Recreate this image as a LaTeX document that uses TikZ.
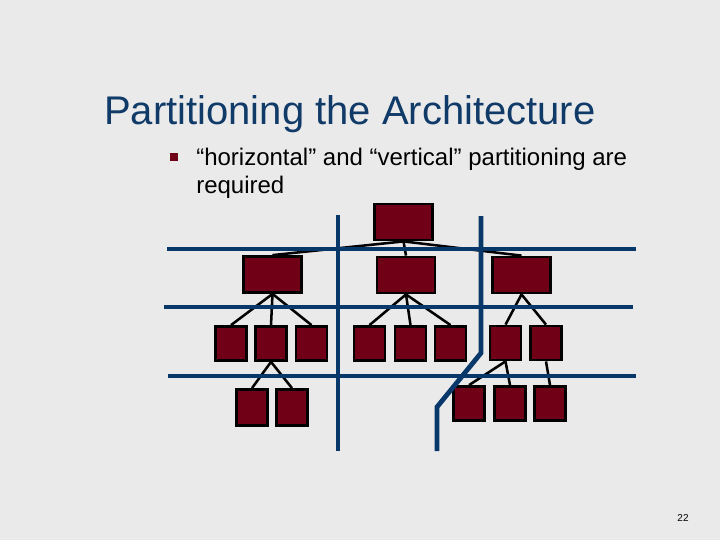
\documentclass[tikz,border=0pt]{standalone}
\usepackage{fontspec}
\setmainfont{Liberation Sans}
\definecolor{bgc}{RGB}{234,234,234}
\definecolor{navy}{RGB}{8,56,106}
\definecolor{titleblue}{RGB}{16,58,104}
\definecolor{maroon}{RGB}{112,0,22}
\begin{document}
\begin{tikzpicture}[x=0.75pt,y=-0.75pt,
  bigbox/.style={draw=black,line width=2.1pt,fill=maroon,inner sep=0pt,minimum width=43.5pt,minimum height=27pt},
  sqbox/.style={draw=black,line width=2.1pt,fill=maroon,inner sep=0pt,minimum width=23.25pt,minimum height=25.5pt},
  tallsq/.style={sqbox,minimum height=27pt},
  conn/.style={draw=black,line width=1.9pt},
  part/.style={draw=navy,line width=3.6pt}]
\fill[bgc] (0,0) rectangle (720,540);
\useasboundingbox (0,0) rectangle (720,540);

% texts
\node[anchor=base west,inner sep=0pt,text=titleblue,font=\fontsize{30}{36}\selectfont] (title) at (104,124) {Partitioning the Architecture};
\node[fill=maroon,minimum size=6pt,inner sep=0pt] (bullet) at (174,157) {};
\node[anchor=base west,inner sep=0pt,align=left,font=\fontsize{18}{21}\selectfont] (txt) at (196,193) {“horizontal” and “vertical” partitioning are\\required};
\node[anchor=base,inner sep=0pt,font=\fontsize{7.5}{9}\selectfont] (pg) at (683,521) {22};

% boxes
\node[bigbox] (top) at (403.5,222) {};
\node[bigbox] (ma) at (272.5,274.5) {};
\node[bigbox] (mb) at (406,275) {};
\node[bigbox] (mc) at (521.5,275) {};

\node[sqbox] (la) at (231,343.5) {};
\node[sqbox] (lb) at (271,343.5) {};
\node[sqbox] (lc) at (311.5,343.5) {};
\node[sqbox] (ld) at (369.5,343.5) {};
\node[sqbox] (le) at (410.5,343.5) {};
\node[sqbox] (lf) at (450.5,343.5) {};
\node[sqbox] (lg) at (505.5,343) {};
\node[sqbox] (lh) at (546,343) {};

\node[tallsq] (ba) at (252,407.5) {};
\node[tallsq] (bb) at (292,407.5) {};
\node[sqbox] (bc) at (469,403.5) {};
\node[sqbox] (bd) at (510,403.5) {};
\node[sqbox] (be) at (550,403.5) {};

% connectors
\draw[conn] (top.south) -- (ma.north);
\draw[conn] (top.south) -- (mb.north);
\draw[conn] (top.south) -- (mc.north);
\draw[conn] (ma.south) -- (la.north);
\draw[conn] (ma.south) -- (lb.north);
\draw[conn] (ma.south) -- (lc.north);
\draw[conn] (mb.south) -- (ld.north);
\draw[conn] (mb.south) -- (le.north);
\draw[conn] (mb.south) -- (lf.north);
\draw[conn] (mc.south) -- (lg.north);
\draw[conn] (mc.south) -- (lh.north);
\draw[conn] (lb.south) -- (ba.north);
\draw[conn] (lb.south) -- (bb.north);
\draw[conn] (lg.south) -- (bc.north);
\draw[conn] (lg.south) -- (bd.north);
\draw[conn] (lh.south) -- (be.north);

% partition lines
\draw[part] (167,249) -- (636,249);
\draw[part] (164,307) -- (633,307);
\draw[part] (168,376) -- (636,376);
\draw[part] (338,215) -- (338,451);
\draw[part] (481,216) -- (481,353) -- (437,407) -- (437,451);
\end{tikzpicture}
\end{document}
